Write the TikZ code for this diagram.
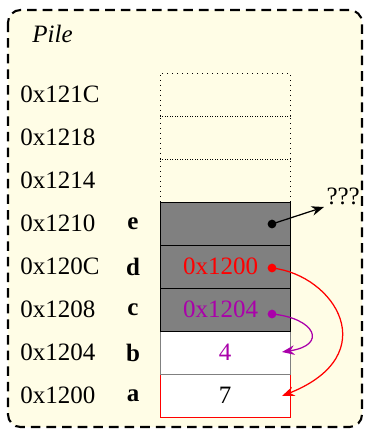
\documentclass[tikz,border=0pt]{standalone}
\usepackage{fontspec}
\setmainfont{Liberation Serif}
\usetikzlibrary{arrows.meta, positioning}
\definecolor{fondpile}{RGB}{255,253,230}
\definecolor{ptrviolet}{RGB}{170,0,170}

\begin{document}
\begin{tikzpicture}[x=0.48pt, y=-0.48pt, >={Stealth[length=6pt, width=4.6pt]},
    every node/.style={font=\rmfamily\fontsize{12}{14}\selectfont},
    case/.style={minimum width=62.4pt, minimum height=20.64pt, inner sep=0pt, outer sep=0pt},
    vide/.style={case, draw, dotted},
    pleine/.style={case, draw, fill=gray},
    adr/.style={anchor=west, inner sep=0pt},
    var/.style={font=\rmfamily\fontsize{12}{14}\selectfont\bfseries},
    dot/.style={circle, fill, inner sep=0pt, minimum size=4.2pt}]
    \useasboundingbox (0,0) rectangle (366,429);
    % la pile
    \draw[fill=fondpile, line width=1pt, dash pattern=on 4.6pt off 2.9pt, rounded corners=6pt]
        (8,10) rectangle (362,427);
    \node[anchor=west, inner sep=0pt, font=\rmfamily\fontsize{12}{14}\selectfont\itshape] (titre) at (32,34) {Pile};

    % cases memoire
    \node[case, draw=red, fill=white] (ca) at (225,395.5) {7};
    \node[case, draw=gray, fill=white, text=ptrviolet, above=0pt of ca] (cb) {4};
    \node[pleine, above=0pt of cb] (cc) {};
    \node[pleine, above=0pt of cc] (cd) {};
    \node[pleine, above=0pt of cd] (ce) {};
    \node[vide, above=0pt of ce] (v1) {};
    \node[vide, above=0pt of v1] (v2) {};
    \node[vide, above=0pt of v2] (v3) {};
    \node[text=ptrviolet] (tc) at (220.5,309.5) {0x1204};
    \node[text=red] (td) at (220.5,266.5) {0x1200};

    % adresses
    \node[adr] (aa) at (20,395.5) {0x1200};
    \node[adr] (ab) at (20,352.5) {0x1204};
    \node[adr] (ac) at (20,309.5) {0x1208};
    \node[adr] (ad) at (20,266.5) {0x120C};
    \node[adr] (ae) at (20,223.5) {0x1210};
    \node[adr] (a1) at (20,180.5) {0x1214};
    \node[adr] (a2) at (20,137.5) {0x1218};
    \node[adr] (a3) at (20,94.5) {0x121C};

    % variables
    \node[var] (na) at (133,395.5) {a};
    \node[var] (nb) at (133,352.5) {b};
    \node[var] (nc) at (133,309.5) {c};
    \node[var] (nd) at (133,266.5) {d};
    \node[var] (ne) at (133,223.5) {e};

    % pointeurs
    \node[dot] (pe) at (272,224) {};
    \node[dot, red] (pd) at (272,268) {};
    \node[dot, ptrviolet] (pc) at (272,314) {};
    \coordinate (fb) at (282,352);
    \coordinate (fa) at (282,396);
    \node[inner sep=1pt, anchor=south west] (q) at (324,207) {???};

    \draw[->, line width=0.6pt] (pe.center) -- (q.south west);
    \draw[->, ptrviolet, line width=0.6pt] (pc.center) .. controls (315,318) and (328,345) .. (fb);
    \draw[->, red, line width=0.6pt] (pd.center) .. controls (335,275) and (385,355) .. (fa);
\end{tikzpicture}
\end{document}
